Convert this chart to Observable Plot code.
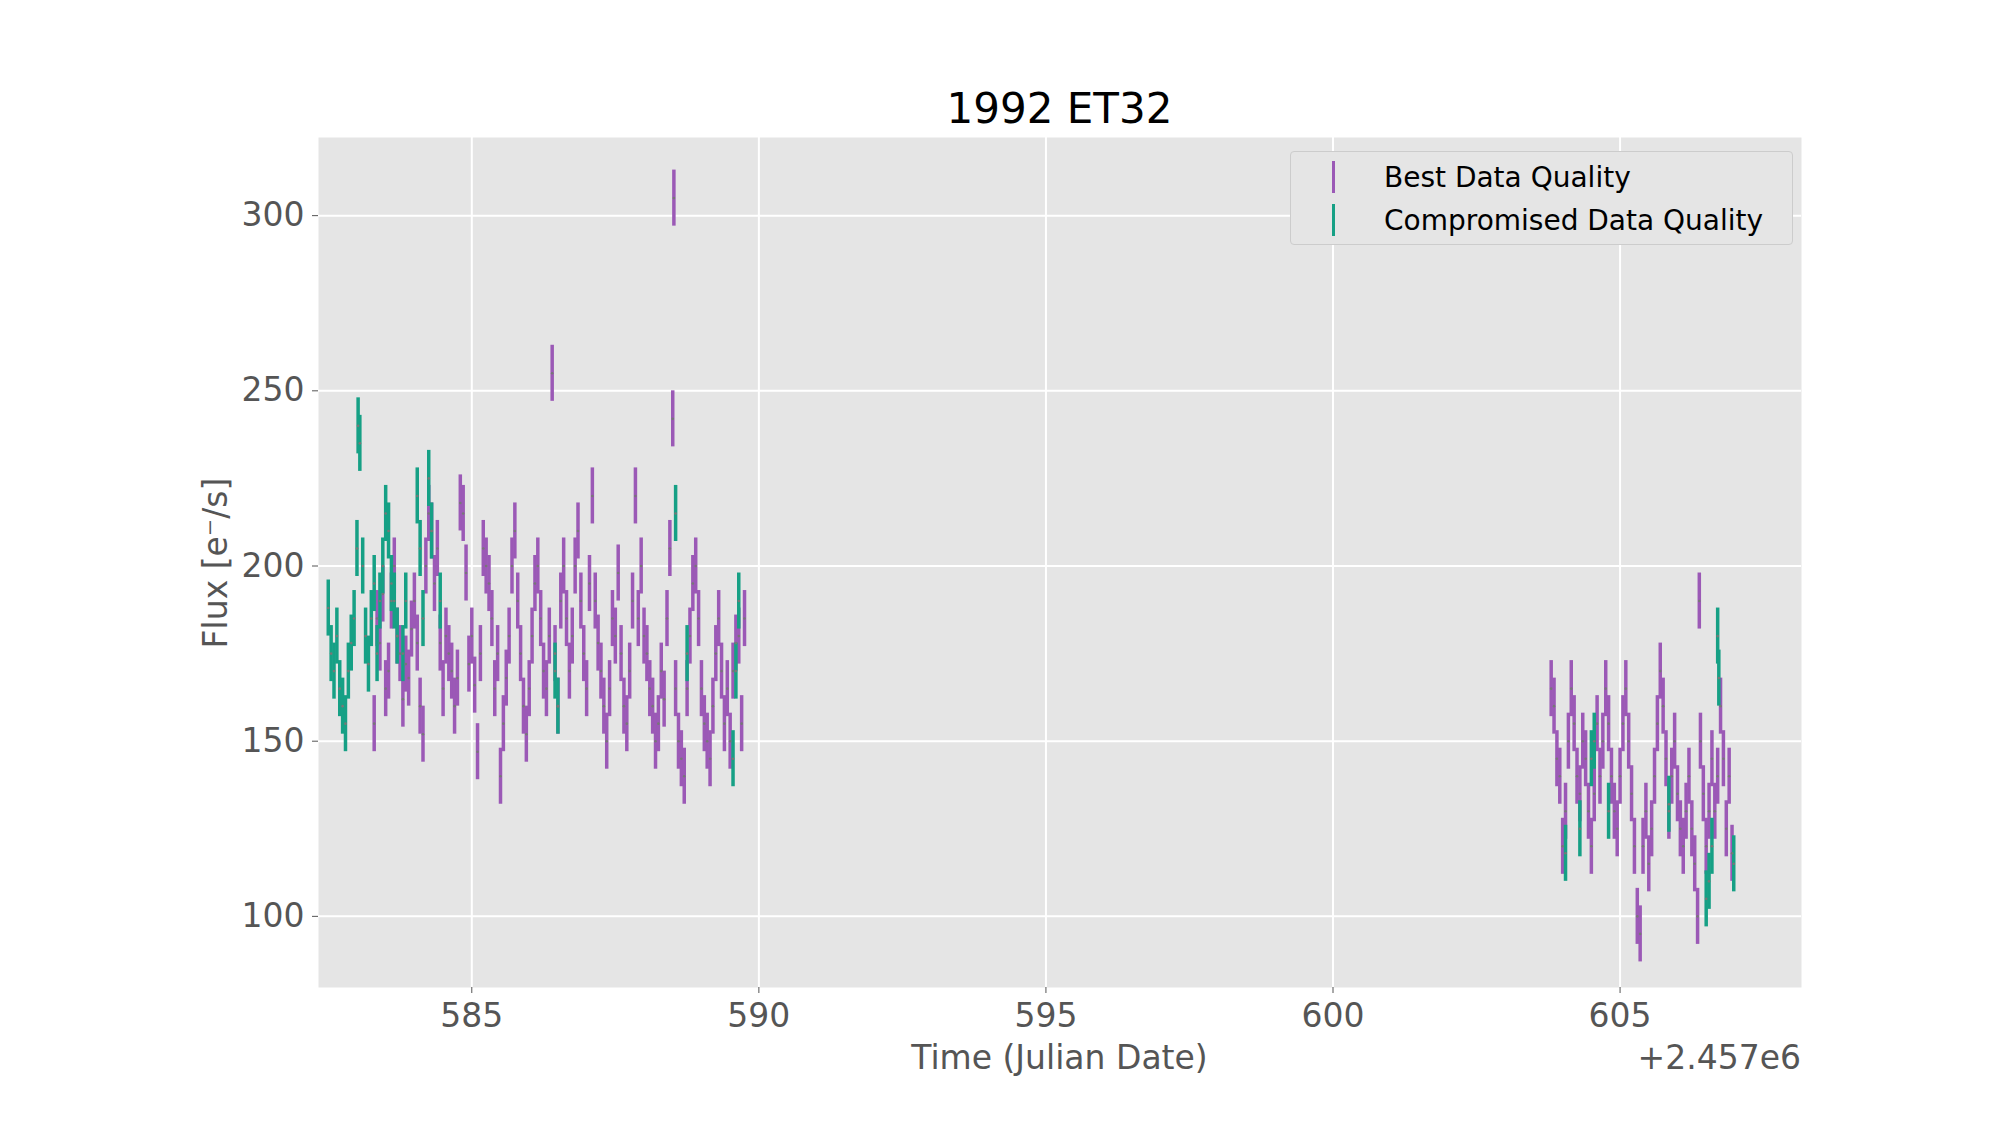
<!DOCTYPE html>
<html><head><meta charset="utf-8">
<script src="https://cdn.jsdelivr.net/npm/d3@7"></script>
<script src="https://cdn.jsdelivr.net/npm/@observablehq/plot@0.6"></script>
<style>
body{margin:0;background:#fff;font-family:"DejaVu Sans",sans-serif;}
#wrap{position:relative;width:1999px;height:1125px;}
.t{position:absolute;white-space:nowrap;}
</style></head><body>
<div id="wrap"></div>
<script>
const title = "1992 ET32";
const xLabel = "Time (Julian Date)";
const yLabel = "Flux [e⁻/s]";
const offsetLabel = "+2.457e6";
const xTicks = [585, 590, 595, 600, 605];
const yTicks = [100, 150, 200, 250, 300];
const errHalf = 8;
const seriesNames = ["Best Data Quality", "Compromised Data Quality"];
const seriesColors = ["#9b59b6", "#16a085"];

const bestTime = [583.3,583.35,583.4,583.45,583.5,583.55,583.6,583.65,583.7,583.75,583.8,583.85,583.9,583.95,584.0,584.05,584.1,584.15,584.2,584.25,584.3,584.35,584.4,584.45,584.5,584.55,584.6,584.65,584.7,584.75,584.8,584.85,584.9,584.95,585.0,585.05,585.1,585.15,585.2,585.25,585.3,585.35,585.4,585.45,585.5,585.55,585.6,585.65,585.7,585.75,585.8,585.85,585.9,585.95,586.0,586.05,586.1,586.15,586.2,586.25,586.3,586.35,586.4,586.45,586.5,586.55,586.6,586.65,586.7,586.75,586.8,586.85,586.9,586.95,587.0,587.05,587.1,587.15,587.2,587.25,587.3,587.35,587.4,587.45,587.5,587.55,587.6,587.65,587.7,587.75,587.8,587.85,587.9,587.95,588.0,588.05,588.1,588.15,588.2,588.25,588.3,588.35,588.4,588.45,588.5,588.52,588.55,588.6,588.65,588.7,588.75,588.8,588.85,588.9,588.95,589.0,589.05,589.1,589.15,589.2,589.25,589.3,589.35,589.4,589.45,589.5,589.55,589.6,589.65,589.7,589.75,
603.8,603.85,603.9,603.95,604.0,604.05,604.1,604.15,604.2,604.25,604.3,604.35,604.4,604.45,604.5,604.55,604.6,604.65,604.7,604.75,604.8,604.85,604.9,604.95,605.0,605.05,605.1,605.15,605.2,605.25,605.3,605.35,605.4,605.45,605.5,605.55,605.6,605.65,605.7,605.75,605.8,605.85,605.9,605.95,606.0,606.05,606.1,606.15,606.2,606.25,606.3,606.35,606.38,606.4,606.45,606.5,606.55,606.6,606.65,606.7,606.75,606.8,606.85,606.9,606.95];
const bestFlux = [155,185,178,192,165,170,190,200,180,175,162,172,168,182,190,178,160,152,200,215,210,195,205,178,165,180,175,170,160,168,218,215,198,172,180,166,147,175,205,200,195,185,165,175,140,155,168,180,200,210,190,175,160,152,165,180,195,200,185,170,165,180,255,175,160,190,200,185,170,180,200,210,190,175,165,195,220,190,178,170,160,150,165,185,180,198,175,160,155,170,190,220,185,200,180,175,165,160,150,155,170,162,185,205,242,305,165,150,145,140,165,180,195,200,185,165,155,150,145,160,175,185,170,155,165,150,170,178,180,155,185,
165,160,145,140,120,130,150,165,155,140,135,150,145,130,120,135,155,140,150,165,155,140,130,125,140,155,165,150,135,120,100,95,120,130,115,125,140,155,170,160,145,130,140,150,135,125,120,130,140,125,115,100,190,150,135,120,130,145,130,140,160,145,125,140,118];

const compTime = [582.5,582.55,582.6,582.65,582.7,582.75,582.8,582.85,582.9,582.95,583.0,583.02,583.05,583.1,583.15,583.2,583.25,583.3,583.35,583.4,583.45,583.5,583.55,583.6,583.65,583.7,583.8,583.85,584.05,584.1,584.15,584.25,584.3,584.45,586.45,586.5,588.55,588.75,589.55,589.6,589.65,
604.05,604.3,604.5,604.55,604.8,605.85,606.5,606.55,606.6,606.7,606.72,606.98];
const compFlux = [188,175,170,180,165,160,155,170,178,185,205,240,235,200,180,172,185,195,175,190,200,215,210,195,190,180,175,190,220,205,185,225,210,190,170,160,215,175,145,170,190,
118,125,145,150,130,132,105,110,120,180,168,115];

const rows = [
  ...bestTime.map((t,i)=>({t, f:bestFlux[i], s:seriesNames[0]})),
  ...compTime.map((t,i)=>({t, f:compFlux[i], s:seriesNames[1]}))
];

const chart = Plot.plot({
  width:1999, height:1125,
  marginLeft:318, marginRight:198, marginTop:137, marginBottom:138,
  style:{fontFamily:"DejaVu Sans", fontSize:"33px", color:"#555", background:"transparent"},
  x:{domain:[582.33,608.16], ticks:xTicks, label:null, tickFormat:d=>String(d)},
  y:{domain:[79.7,322.3], ticks:yTicks, label:null},
  color:{domain:seriesNames, range:seriesColors},
  marks:[
    Plot.frame({fill:"#e5e5e5", stroke:null}),
    Plot.gridX(xTicks,{stroke:"#fff", strokeOpacity:1, strokeWidth:2}),
    Plot.gridY(yTicks,{stroke:"#fff", strokeOpacity:1, strokeWidth:2}),
    Plot.axisX(xTicks,{stroke:"#555", fill:"#555", fontSize:33, tickSize:6, tickPadding:10, tickFormat:d=>String(d)}),
    Plot.axisY(yTicks,{stroke:"#555", fill:"#555", fontSize:33, tickSize:6, tickPadding:8}),
    Plot.ruleX(rows,{x:"t", y1:d=>d.f-errHalf, y2:d=>d.f+errHalf, stroke:"s", strokeWidth:3.5}),
    Plot.dot(rows,{x:"t", y:"f", r:1.3, fill:"#777", stroke:null})
  ]
});
const wrap = document.getElementById("wrap");
wrap.appendChild(chart);
function lab(txt, css){const d=document.createElement("div");d.className="t";d.textContent=txt;Object.assign(d.style,css);wrap.appendChild(d);return d;}
lab(title,{left:"0",width:"2119px",textAlign:"center",top:"84px",fontSize:"42px",color:"#000"});
lab(xLabel,{left:"0",width:"2119px",textAlign:"center",top:"1038px",fontSize:"33px",color:"#555"});
lab(offsetLabel,{right:"198px",top:"1038px",fontSize:"33px",color:"#555"});
lab(yLabel,{left:"215px",top:"563px",fontSize:"33px",color:"#555",transform:"translate(-50%,-50%) rotate(-90deg)"});
const lg=document.createElement("div");
Object.assign(lg.style,{position:"absolute",left:"1290px",top:"151px",width:"503px",height:"94px",background:"#e5e5e5",border:"1px solid #ccc",borderRadius:"4px",boxSizing:"border-box",fontSize:"28px",color:"#000"});
seriesNames.forEach((n,i)=>{
  const r=document.createElement("div");
  Object.assign(r.style,{position:"absolute",left:"0",top:(i*43+5)+"px",height:"40px",display:"flex",alignItems:"center"});
  const bar=document.createElement("span");
  Object.assign(bar.style,{display:"inline-block",width:"3px",height:"32px",background:seriesColors[i],marginLeft:"41px",marginRight:"49px"});
  const tx=document.createElement("span");tx.textContent=n;
  r.appendChild(bar);r.appendChild(tx);lg.appendChild(r);
});
wrap.appendChild(lg);
</script>
</body></html>
